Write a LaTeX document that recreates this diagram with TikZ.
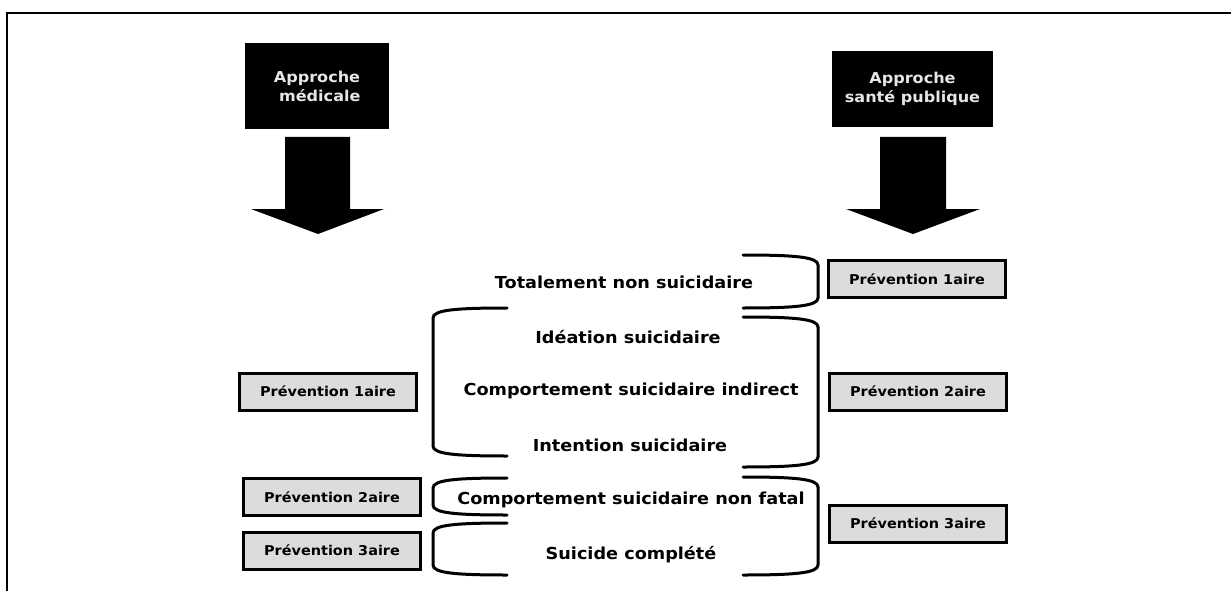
\documentclass[tikz,border=0pt]{standalone}
\usepackage{fontspec}
\setmainfont{DejaVu Sans}[FakeStretch=1.07]
\begin{document}
\begin{tikzpicture}[x=1pt,y=-1pt,
  level/.style={font=\bfseries\fontsize{16.5}{19}\selectfont, inner sep=0pt},
  prev/.style={draw=black, line width=3pt, fill=prevgray, minimum width=177pt,
    minimum height=37pt, inner sep=0pt, font=\bfseries\fontsize{13.5}{16}\selectfont},
  approach/.style={fill=black, text=approchetext, align=center, inner sep=0pt,
    font=\bfseries\fontsize{15}{19}\selectfont},
  bracket/.style={line width=3pt, line cap=round},
  blockarrow/.style={fill=black}]
\definecolor{prevgray}{HTML}{DCDCDC}
\definecolor{approchetext}{HTML}{E6E6E6}
\useasboundingbox (0,0) rectangle (1231,591);

% frame
\draw[line width=2.5pt] (7,591) -- (7,13) -- (1231,13);

% approach headers
\node[approach, minimum width=144pt, minimum height=86pt] (med) at (317,86)
  {Approche\\\ m\'edicale};
\node[approach, minimum width=161pt, minimum height=76pt] (sp) at (912.5,89)
  {Approche\\sant\'e publique};

% block arrows below the headers
\fill[blockarrow] (285,137) -- (350,137) -- (350,209) -- (384,209) -- (318,234)
  -- (251,209) -- (285,209) -- cycle;
\fill[blockarrow] (880,137) -- (946,137) -- (946,209) -- (980,209) -- (913,234)
  -- (846,209) -- (880,209) -- cycle;

% levels of suicidal behaviour
\node[level] (tot) at (624,282) {Totalement non suicidaire};
\node[level] (ide) at (628,337) {Id\'eation suicidaire};
\node[level] (ind) at (631,391) {Comportement suicidaire indirect};
\node[level] (int) at (630,445) {Intention suicidaire};
\node[level] (nf)  at (631,500) {Comportement suicidaire non fatal};
\node[level] (sc)  at (631,555) {Suicide compl\'et\'e};

% right-hand brackets
\foreach \ya/\yb in {255/308, 317/467, 477/575}{
  \draw[bracket] (743,\ya) .. controls (795,\ya) and (818,\ya+2) .. (818,\ya+10)
    -- (818,\yb-10) .. controls (818,\yb-2) and (795,\yb) .. (743,\yb);
}
% left-hand brackets
\foreach \ya/\yb in {308/456, 478/515, 523/575}{
  \draw[bracket] (507,\ya) .. controls (455,\ya) and (433,\ya+2) .. (433,\ya+10)
    -- (433,\yb-10) .. controls (433,\yb-2) and (455,\yb) .. (507,\yb);
}

% prevention levels, medical approach
\node[prev] (m1) at (328,391.5) {Pr\'evention 1aire};
\node[prev] (m2) at (332,497) {Pr\'evention 2aire};
\node[prev] (m3) at (332,550.5) {Pr\'evention 3aire};
% prevention levels, public health approach
\node[prev] (p1) at (917,279) {Pr\'evention 1aire};
\node[prev] (p2) at (918,391.5) {Pr\'evention 2aire};
\node[prev] (p3) at (918,523.5) {Pr\'evention 3aire};
\end{tikzpicture}
\end{document}
